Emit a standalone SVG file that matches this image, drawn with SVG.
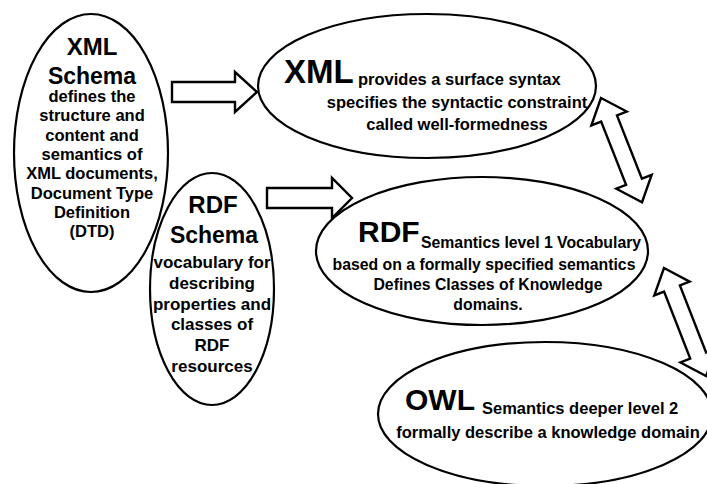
<svg xmlns="http://www.w3.org/2000/svg" width="707" height="484" viewBox="0 0 707 484">
<style>
.node{fill:none;stroke:#000;stroke-width:2.2}
.arr{fill:#fff;stroke:#000;stroke-width:2.4;stroke-linejoin:miter}
text{font-family:"Liberation Sans",Arial,sans-serif;font-weight:bold;fill:#000}
.t{font-size:23px;text-anchor:middle}
.b{font-size:16.5px;text-anchor:middle}
.rb{font-size:17px;text-anchor:middle}
.big{font-size:33px}
.s{font-size:16.5px}
.r{font-size:15.8px}
.o{font-size:16.5px}
.m{text-anchor:middle}
</style>
<rect width="707" height="484" fill="#fff"/>
<g id="connectors">
<polygon class="arr" points="172,82 235,82 235,72 257,92 235,112 235,102 172,102"/>
<polygon class="arr" points="267,188 332,188 332,178 352,198 332,218 332,208 267,208"/>
<polygon class="arr" transform="translate(601,98) rotate(68.5)" points="0,0 22,-19 22,-8.5 90,-8.5 90,-19 112,0 90,19 90,8.5 22,8.5 22,19"/>
<polygon class="arr" transform="translate(664,268) rotate(68.7)" points="0,0 22,-19 22,-8.5 94,-8.5 94,-19 116,0 94,19 94,8.5 22,8.5 22,19"/>
</g>
<g id="xml-schema">
<ellipse class="node" cx="91" cy="153" rx="77" ry="139"/>
<text class="t" x="92" y="55" style="font-size:24px">XML</text>
<text class="t" x="92" y="84">Schema</text>
<text class="b" x="92" y="102">defines the</text>
<text class="b" x="92" y="121">structure and</text>
<text class="b" x="92" y="141">content and</text>
<text class="b" x="92" y="160">semantics of</text>
<text class="b" x="92" y="179">XML documents,</text>
<text class="b" x="92" y="199">Document Type</text>
<text class="b" x="92" y="218">Definition</text>
<text class="b" x="92" y="237">(DTD)</text>
</g>
<g id="rdf-schema">
<ellipse class="node" cx="212" cy="289" rx="62" ry="116"/>
<text class="t" x="213" y="213" style="font-size:24px">RDF</text>
<text class="t" x="214" y="243">Schema</text>
<text class="rb" x="212" y="268">vocabulary for</text>
<text class="rb" x="212" y="289">describing</text>
<text class="rb" x="212" y="310">properties and</text>
<text class="rb" x="212" y="330">classes of</text>
<text class="rb" x="212" y="351">RDF</text>
<text class="rb" x="212" y="372">resources</text>
</g>
<g id="xml">
<ellipse class="node" cx="427" cy="86" rx="169" ry="72"/>
<text class="big" x="284" y="83">XML</text>
<text class="s" x="358" y="85">provides a surface syntax</text>
<text class="s m" x="457" y="108">specifies the syntactic constraint</text>
<text class="s m" x="457" y="130">called well-formedness</text>
</g>
<g id="rdf">
<ellipse class="node" cx="482" cy="251" rx="166" ry="74"/>
<text x="358" y="242" style="font-size:30px">RDF</text>
<text class="r" x="421" y="248">Semantics level 1 Vocabulary</text>
<text class="r m" x="484" y="270">based on a formally specified semantics</text>
<text class="r m" x="488" y="290">Defines Classes of Knowledge</text>
<text class="r m" x="488" y="310">domains.</text>
</g>
<g id="owl">
<ellipse class="node" cx="545" cy="414" rx="167" ry="72"/>
<text x="405" y="410" style="font-size:30px">OWL</text>
<text class="o" x="482" y="414">Semantics deeper level 2</text>
<text class="o m" x="548" y="438">formally describe a knowledge domain</text>
</g>
</svg>
